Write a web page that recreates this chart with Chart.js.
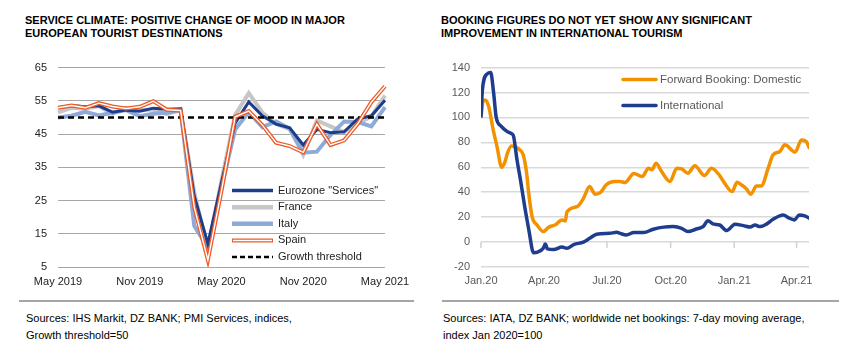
<!DOCTYPE html>
<html><head><meta charset="utf-8">
<script src="https://cdn.jsdelivr.net/npm/chart.js@4.4.1/dist/chart.umd.min.js"></script>
<style>
body{margin:0;background:#fff;width:850px;height:356px;position:relative;overflow:hidden;font-family:"Liberation Sans",Arial,sans-serif;}
.title{position:absolute;top:14px;font-weight:bold;font-size:11px;line-height:13px;color:#000;white-space:nowrap;}
.src{position:absolute;top:310px;font-size:11px;line-height:17px;color:#000;white-space:nowrap;}
.sep{position:absolute;top:300px;height:2px;background:#a6a6a6;}
canvas{position:absolute;}
</style></head>
<body>
<div class="title" style="left:25px">SERVICE CLIMATE: POSITIVE CHANGE OF MOOD IN MAJOR<br>EUROPEAN TOURIST DESTINATIONS</div>
<div class="title" style="left:441px">BOOKING FIGURES DO NOT YET SHOW ANY SIGNIFICANT<br>IMPROVEMENT IN INTERNATIONAL TOURISM</div>
<canvas id="c1" width="425" height="244" style="left:0;top:50px"></canvas>
<canvas id="c2" width="425" height="245" style="left:425px;top:50px"></canvas>
<div class="sep" style="left:19px;width:395px"></div>
<div class="sep" style="left:442px;width:397px"></div>
<div class="src" style="left:26px">Sources: IHS Markit, DZ BANK; PMI Services, indices,<br>Growth threshold=50</div>
<div class="src" style="left:443px">Sources: IATA, DZ BANK; worldwide net bookings: 7-day moving average,<br>index Jan 2020=100</div>
<script>
// ---------- Left chart data (monthly PMI services) ----------
const months = ['May 2019','Jun 2019','Jul 2019','Aug 2019','Sep 2019','Oct 2019','Nov 2019','Dec 2019','Jan 2020','Feb 2020','Mar 2020','Apr 2020','May 2020','Jun 2020','Jul 2020','Aug 2020','Sep 2020','Oct 2020','Nov 2020','Dec 2020','Jan 2021','Feb 2021','Mar 2021','Apr 2021','May 2021'];
const eurozone = [52.9,53.6,53.2,53.5,51.6,52.2,51.9,52.8,52.5,52.6,26.4,12.0,30.5,48.3,54.7,50.5,48.0,46.9,41.7,46.4,45.4,45.7,49.6,50.5,55.2];
const france   = [51.5,52.9,52.6,53.4,51.1,52.9,52.2,52.4,51.0,52.5,27.4,10.2,31.1,50.7,57.3,51.5,48.0,46.5,38.8,49.1,47.3,45.6,48.2,50.3,56.6];
const italy    = [50.0,50.5,51.7,50.6,51.4,52.2,50.4,51.1,51.4,52.1,17.4,10.8,28.9,46.4,51.6,47.1,48.8,46.7,39.4,39.7,44.7,48.8,48.6,47.3,53.1];
const spain    = [52.9,53.6,52.9,54.3,53.3,52.7,53.2,54.9,52.3,52.1,23.0,7.1,27.9,50.2,51.9,47.7,42.4,41.4,39.5,48.0,41.7,43.1,48.1,54.6,59.4];
const threshold = [50,50,50,50,50,50,50,50,50,50,50,50,50,50,50,50,50,50,50,50,50,50,50,50,50];
const leftTickStep = 6;

// ---------- Right chart data (days since 1 Jan 2020) ----------
const domDays = [0,3,6,11,18,23,30,35,38,44,51,56,61,66,69,74,81,90,98,107,117,122,124,139,148,157,165,173,181,193,201,208,221,233,242,247,253,261,273,283,290,299,309,323,333,345,352,363,370,376,383,390,398,405,415,422,432,439,454,463,470,475];
const domVals = [100,113,114,109,89,77,60,65,71,77,76,74,70,55,39,20,13.7,8.4,12,13.7,17.8,17,24,28.5,35,44.5,38.4,40,46,48.6,48.6,47.8,55,52.6,59.3,58,63.3,56.6,48.6,59.3,58.8,55.3,61.2,53.4,59.3,53.4,47.3,40.5,48,46,43,38.4,45,45,59.3,70,72.7,78,72.2,82,80.7,74.8];
const intDays = [0,2,9,14,18,22,29,37,44,47,52,57,63,70,74,76,82,90,93,96,105,117,124,134,148,157,167,186,196,201,210,221,235,249,264,278,290,299,311,321,328,335,345,355,367,379,389,396,403,413,422,437,444,453,460,468,475];
const intVals = [100,122,135,136,121,100,93,89,87,85,66,50,29,7,-6,-8.5,-8,-5,-1.5,-5.5,-6,-4,-5,-2,0,3,6.3,7,7.8,7,5.7,7.6,7.6,10.3,12,12.4,11,8.4,10.5,12.4,17.2,14.6,13.7,9.2,14.3,13.2,12,13.7,12.4,14.6,18.3,21.8,19.6,17.8,21.8,21,19];
const rightTickDays = [0,91,182,274,366,456];
const rightTickLabels = ['Jan.20','Apr.20','Jul.20','Oct.20','Jan.21','Apr.21'];

const FONT = '"Liberation Sans", Arial, sans-serif';
Chart.defaults.font.family = FONT;
Chart.defaults.font.size = 11;
Chart.defaults.animation = false;

const PLOT_TOP = 68; // page y of plot-area top in both panels

const C_EZ = '#1c3d8c', C_FR = '#c6c6c6', C_IT = '#8eaad8', C_ES = '#ee5a27';

const leftLegend = {
  id: 'leftLegend',
  afterDraw(chart) {
    const ctx = chart.ctx, a = chart.chartArea;
    const x0 = a.left + 174, x1 = a.left + 215, tx = a.left + 220;
    const items = [
      {t:'Eurozone "Services"', c:C_EZ, w:3.5},
      {t:'France', c:C_FR, w:4.5},
      {t:'Italy', c:C_IT, w:4.5},
      {t:'Spain', c:C_ES, w:4, inner:true},
      {t:'Growth threshold', c:'#000', w:2.5, dash:[5,3]}
    ];
    ctx.save();
    items.forEach((it, i) => {
      const y = a.top + 123 + i * 16.6;
      ctx.setLineDash(it.dash || []);
      ctx.strokeStyle = it.c; ctx.lineWidth = it.w;
      ctx.beginPath(); ctx.moveTo(x0, y); ctx.lineTo(x1, y); ctx.stroke();
      if (it.inner) {
        ctx.strokeStyle = '#fff'; ctx.lineWidth = 1.5;
        ctx.beginPath(); ctx.moveTo(x0 + 1, y); ctx.lineTo(x1 - 1, y); ctx.stroke();
      }
      ctx.setLineDash([]);
      ctx.fillStyle = '#222'; ctx.font = '11px ' + FONT; ctx.textBaseline = 'middle';
      ctx.fillText(it.t, tx, y);
    });
    ctx.restore();
  }
};

const chart1 = new Chart(document.getElementById('c1'), {
  type: 'line',
  data: {
    labels: months,
    datasets: [
      {label:'Spain inner', data: spain, borderColor:'#fff', borderWidth:1.4, pointRadius:0, order:0},
      {label:'Spain', data: spain, borderColor:C_ES, borderWidth:4, pointRadius:0, order:1},
      {label:'Growth threshold', data: threshold, borderColor:'#000', borderWidth:2.5, borderDash:[6,4], pointRadius:0, order:2},
      {label:'Eurozone "Services"', data: eurozone, borderColor:C_EZ, borderWidth:3, pointRadius:0, order:3},
      {label:'Italy', data: italy, borderColor:C_IT, borderWidth:4, pointRadius:0, order:4},
      {label:'France', data: france, borderColor:C_FR, borderWidth:4, pointRadius:0, order:5}
    ]
  },
  options: {
    responsive: false,
    layout: {padding: {left:10, right:40, top:0, bottom:0}},
    plugins: {legend:{display:false}, tooltip:{enabled:false}},
    scales: {
      x: {
        offset: false,
        grid: {display:false, drawTicks:false},
        border: {display:false},
        ticks: {autoSkip:false, maxRotation:0, padding:8, color:'#222', font:{size:11},
          callback: (v, i) => (i % leftTickStep === 0 ? months[i] : '')},
        afterFit: s => { s.height = 27; }
      },
      y: {
        min: 5, max: 65,
        grid: {color:'#a6a6a6', lineWidth:1, drawTicks:false},
        border: {display:false},
        ticks: {stepSize:10, padding:11, color:'#222', font:{size:11}},
        afterFit: s => { s.width = 48; }
      }
    }
  },
  plugins: [leftLegend]
});

const C_DOM = '#f39200', C_INT = '#1f3d8f';

const rightExtras = {
  id: 'rightExtras',
  beforeDatasetsDraw(chart) {
    const ctx = chart.ctx, xs = chart.scales.x, ys = chart.scales.y;
    const py = ys.getPixelForValue(0);
    ctx.save();
    ctx.strokeStyle = '#d0d0d0'; ctx.lineWidth = 1.5;
    rightTickDays.forEach(d => {
      const px = xs.getPixelForValue(d);
      ctx.beginPath(); ctx.moveTo(px, py); ctx.lineTo(px, py + 6); ctx.stroke();
    });
    ctx.restore();
  },
  afterDraw(chart) {
    const ctx = chart.ctx, a = chart.chartArea;
    const x0 = a.left + 142, x1 = a.left + 175, tx = a.left + 179;
    const items = [{t:'Forward Booking: Domestic', c:C_DOM}, {t:'International', c:C_INT}];
    ctx.save();
    items.forEach((it, i) => {
      const y = a.top + 12 + i * 26;
      ctx.strokeStyle = it.c; ctx.lineWidth = 3.5; ctx.lineCap = 'round';
      ctx.beginPath(); ctx.moveTo(x0, y); ctx.lineTo(x1, y); ctx.stroke();
      ctx.fillStyle = '#595959'; ctx.font = '11.5px ' + FONT; ctx.textBaseline = 'middle';
      ctx.fillText(it.t, tx, y);
    });
    ctx.restore();
  }
};

const chart2 = new Chart(document.getElementById('c2'), {
  type: 'line',
  data: {
    datasets: [
      {label:'International', data: intDays.map((d, i) => ({x:d, y:intVals[i]})), borderColor:C_INT, borderWidth:3.5, pointRadius:0, tension:0.3, cubicInterpolationMode:'monotone', order:0},
      {label:'Forward Booking: Domestic', data: domDays.map((d, i) => ({x:d, y:domVals[i]})), borderColor:C_DOM, borderWidth:3.5, pointRadius:0, tension:0.3, cubicInterpolationMode:'monotone', order:1}
    ]
  },
  options: {
    responsive: false,
    layout: {padding: {left:0, right:41, top:0, bottom:0}},
    plugins: {legend:{display:false}, tooltip:{enabled:false}},
    scales: {
      x: {
        type: 'linear', min: 0, max: 474,
        grid: {display:false, drawTicks:false},
        border: {display:false},
        afterBuildTicks: s => { s.ticks = rightTickDays.map(v => ({value:v})); },
        ticks: {padding:7, color:'#595959', font:{size:11}, maxRotation:0, autoSkip:false,
          callback: v => rightTickLabels[rightTickDays.indexOf(v)]},
        afterFit: s => { s.height = 28; }
      },
      y: {
        min: -20, max: 140,
        grid: {color:'#d9d9d9', lineWidth:1.5, drawTicks:false},
        border: {display:false},
        ticks: {stepSize:20, padding:11, color:'#595959', font:{size:11}},
        afterFit: s => { s.width = 56; }
      }
    }
  },
  plugins: [rightExtras]
});

// align the plot-area tops of both panels with the page layout
[chart1, chart2].forEach(ch => {
  ch.canvas.style.top = (PLOT_TOP - ch.chartArea.top) + 'px';
});
</script>
</body></html>
